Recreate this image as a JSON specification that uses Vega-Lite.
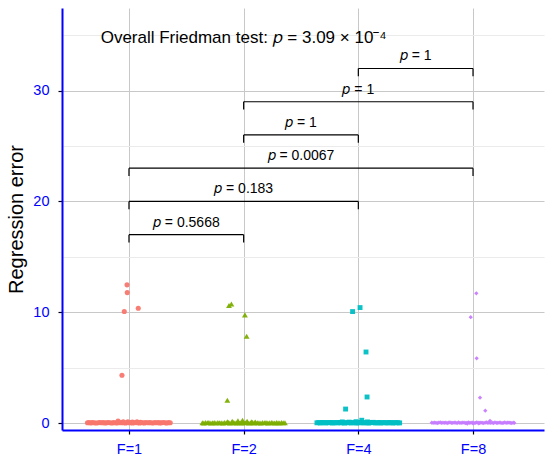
{
  "$schema": "https://vega.github.io/schema/vega-lite/v6.json",
  "description": "Regression error by F with Friedman test brackets",
  "autosize": {"type": "none"},
  "padding": {"left": 62, "top": 8, "right": 6, "bottom": 34},
  "width": 482,
  "height": 422,
  "config": {
    "view": {"stroke": null},
    "font": "Liberation Sans",
    "axis": {"labelFont": "Liberation Sans", "titleFont": "Liberation Sans"}
  },
  "datasets": {
    "points": [
      {"g": "F=1", "x": 0.983, "y": 12.47}, {"g": "F=1", "x": 0.985, "y": 11.77},
      {"g": "F=1", "x": 0.959, "y": 10.06}, {"g": "F=1", "x": 1.081, "y": 10.36},
      {"g": "F=1", "x": 0.939, "y": 4.31},
      {"g": "F=1", "x": 0.638, "y": 0.02}, {"g": "F=1", "x": 0.651, "y": 0.04}, {"g": "F=1", "x": 0.669, "y": 0.01},
      {"g": "F=1", "x": 0.682, "y": 0.05}, {"g": "F=1", "x": 0.698, "y": 0.03}, {"g": "F=1", "x": 0.713, "y": 0.0},
      {"g": "F=1", "x": 0.731, "y": 0.03}, {"g": "F=1", "x": 0.744, "y": 0.05}, {"g": "F=1", "x": 0.76, "y": 0.02},
      {"g": "F=1", "x": 0.774, "y": 0.04}, {"g": "F=1", "x": 0.791, "y": 0.01}, {"g": "F=1", "x": 0.806, "y": 0.03},
      {"g": "F=1", "x": 0.82, "y": 0.05}, {"g": "F=1", "x": 0.835, "y": 0.02}, {"g": "F=1", "x": 0.851, "y": 0.0},
      {"g": "F=1", "x": 0.864, "y": 0.04}, {"g": "F=1", "x": 0.88, "y": 0.03}, {"g": "F=1", "x": 0.896, "y": 0.01},
      {"g": "F=1", "x": 0.909, "y": 0.05}, {"g": "F=1", "x": 0.925, "y": 0.02}, {"g": "F=1", "x": 0.94, "y": 0.04},
      {"g": "F=1", "x": 0.954, "y": 0.03}, {"g": "F=1", "x": 0.971, "y": 0.0}, {"g": "F=1", "x": 0.985, "y": 0.05},
      {"g": "F=1", "x": 1.0, "y": 0.02}, {"g": "F=1", "x": 1.016, "y": 0.04}, {"g": "F=1", "x": 1.029, "y": 0.01},
      {"g": "F=1", "x": 1.046, "y": 0.03}, {"g": "F=1", "x": 1.06, "y": 0.05}, {"g": "F=1", "x": 1.075, "y": 0.02},
      {"g": "F=1", "x": 1.091, "y": 0.0}, {"g": "F=1", "x": 1.104, "y": 0.04}, {"g": "F=1", "x": 1.12, "y": 0.03},
      {"g": "F=1", "x": 1.135, "y": 0.01}, {"g": "F=1", "x": 1.149, "y": 0.05}, {"g": "F=1", "x": 1.166, "y": 0.02},
      {"g": "F=1", "x": 1.18, "y": 0.04}, {"g": "F=1", "x": 1.194, "y": 0.03}, {"g": "F=1", "x": 1.21, "y": 0.0},
      {"g": "F=1", "x": 1.225, "y": 0.05}, {"g": "F=1", "x": 1.239, "y": 0.02}, {"g": "F=1", "x": 1.255, "y": 0.04},
      {"g": "F=1", "x": 1.27, "y": 0.01}, {"g": "F=1", "x": 1.284, "y": 0.03}, {"g": "F=1", "x": 1.3, "y": 0.05},
      {"g": "F=1", "x": 1.316, "y": 0.02}, {"g": "F=1", "x": 1.329, "y": 0.0}, {"g": "F=1", "x": 1.345, "y": 0.04},
      {"g": "F=1", "x": 1.36, "y": 0.03},
      {"g": "F=1", "x": 0.905, "y": 0.18}, {"g": "F=1", "x": 0.95, "y": 0.1},
      {"g": "F=1", "x": 0.99, "y": 0.12}, {"g": "F=1", "x": 1.03, "y": 0.08},
      {"g": "F=1", "x": 1.07, "y": 0.11}, {"g": "F=1", "x": 1.1, "y": 0.07},

      {"g": "F=2", "x": 1.872, "y": 10.6}, {"g": "F=2", "x": 1.893, "y": 10.75},
      {"g": "F=2", "x": 2.011, "y": 9.76}, {"g": "F=2", "x": 2.026, "y": 7.83},
      {"g": "F=2", "x": 1.858, "y": 2.05},
      {"g": "F=2", "x": 1.64, "y": 0.03}, {"g": "F=2", "x": 1.653, "y": 0.01}, {"g": "F=2", "x": 1.668, "y": 0.05},
      {"g": "F=2", "x": 1.684, "y": 0.02}, {"g": "F=2", "x": 1.697, "y": 0.04}, {"g": "F=2", "x": 1.714, "y": 0.0},
      {"g": "F=2", "x": 1.729, "y": 0.03}, {"g": "F=2", "x": 1.743, "y": 0.05}, {"g": "F=2", "x": 1.758, "y": 0.01},
      {"g": "F=2", "x": 1.775, "y": 0.04}, {"g": "F=2", "x": 1.789, "y": 0.02}, {"g": "F=2", "x": 1.804, "y": 0.03},
      {"g": "F=2", "x": 1.82, "y": 0.0}, {"g": "F=2", "x": 1.834, "y": 0.05}, {"g": "F=2", "x": 1.849, "y": 0.02},
      {"g": "F=2", "x": 1.866, "y": 0.04}, {"g": "F=2", "x": 1.879, "y": 0.01}, {"g": "F=2", "x": 1.895, "y": 0.03},
      {"g": "F=2", "x": 1.911, "y": 0.05}, {"g": "F=2", "x": 1.924, "y": 0.02}, {"g": "F=2", "x": 1.94, "y": 0.0},
      {"g": "F=2", "x": 1.955, "y": 0.04}, {"g": "F=2", "x": 1.969, "y": 0.03}, {"g": "F=2", "x": 1.986, "y": 0.01},
      {"g": "F=2", "x": 2.0, "y": 0.05}, {"g": "F=2", "x": 2.014, "y": 0.02}, {"g": "F=2", "x": 2.031, "y": 0.04},
      {"g": "F=2", "x": 2.045, "y": 0.0}, {"g": "F=2", "x": 2.06, "y": 0.03}, {"g": "F=2", "x": 2.076, "y": 0.05},
      {"g": "F=2", "x": 2.09, "y": 0.01}, {"g": "F=2", "x": 2.105, "y": 0.04}, {"g": "F=2", "x": 2.121, "y": 0.02},
      {"g": "F=2", "x": 2.134, "y": 0.03}, {"g": "F=2", "x": 2.15, "y": 0.0}, {"g": "F=2", "x": 2.165, "y": 0.05},
      {"g": "F=2", "x": 2.181, "y": 0.02}, {"g": "F=2", "x": 2.195, "y": 0.04}, {"g": "F=2", "x": 2.21, "y": 0.01},
      {"g": "F=2", "x": 2.224, "y": 0.03}, {"g": "F=2", "x": 2.241, "y": 0.05}, {"g": "F=2", "x": 2.255, "y": 0.02},
      {"g": "F=2", "x": 2.27, "y": 0.0}, {"g": "F=2", "x": 2.286, "y": 0.04}, {"g": "F=2", "x": 2.3, "y": 0.03},
      {"g": "F=2", "x": 2.314, "y": 0.01}, {"g": "F=2", "x": 2.33, "y": 0.05}, {"g": "F=2", "x": 2.345, "y": 0.02},
      {"g": "F=2", "x": 2.36, "y": 0.03},
      {"g": "F=2", "x": 1.86, "y": 0.12}, {"g": "F=2", "x": 1.9, "y": 0.15},
      {"g": "F=2", "x": 1.95, "y": 0.2}, {"g": "F=2", "x": 1.99, "y": 0.25},
      {"g": "F=2", "x": 2.03, "y": 0.15}, {"g": "F=2", "x": 2.07, "y": 0.12},
      {"g": "F=2", "x": 2.1, "y": 0.1},

      {"g": "F=4", "x": 2.95, "y": 10.06}, {"g": "F=4", "x": 3.015, "y": 10.42},
      {"g": "F=4", "x": 3.067, "y": 6.41}, {"g": "F=4", "x": 3.076, "y": 2.35},
      {"g": "F=4", "x": 2.889, "y": 1.26},
      {"g": "F=4", "x": 2.639, "y": 0.02}, {"g": "F=4", "x": 2.654, "y": 0.04}, {"g": "F=4", "x": 2.668, "y": 0.0},
      {"g": "F=4", "x": 2.685, "y": 0.05}, {"g": "F=4", "x": 2.699, "y": 0.03}, {"g": "F=4", "x": 2.714, "y": 0.01},
      {"g": "F=4", "x": 2.73, "y": 0.04}, {"g": "F=4", "x": 2.744, "y": 0.02}, {"g": "F=4", "x": 2.759, "y": 0.05},
      {"g": "F=4", "x": 2.776, "y": 0.0}, {"g": "F=4", "x": 2.79, "y": 0.03}, {"g": "F=4", "x": 2.805, "y": 0.04},
      {"g": "F=4", "x": 2.819, "y": 0.01}, {"g": "F=4", "x": 2.835, "y": 0.05}, {"g": "F=4", "x": 2.85, "y": 0.02},
      {"g": "F=4", "x": 2.865, "y": 0.03}, {"g": "F=4", "x": 2.88, "y": 0.0}, {"g": "F=4", "x": 2.894, "y": 0.04},
      {"g": "F=4", "x": 2.91, "y": 0.02}, {"g": "F=4", "x": 2.925, "y": 0.05}, {"g": "F=4", "x": 2.939, "y": 0.01},
      {"g": "F=4", "x": 2.955, "y": 0.03}, {"g": "F=4", "x": 2.97, "y": 0.04}, {"g": "F=4", "x": 2.985, "y": 0.0},
      {"g": "F=4", "x": 3.0, "y": 0.02}, {"g": "F=4", "x": 3.015, "y": 0.05}, {"g": "F=4", "x": 3.03, "y": 0.03},
      {"g": "F=4", "x": 3.044, "y": 0.01}, {"g": "F=4", "x": 3.06, "y": 0.04}, {"g": "F=4", "x": 3.075, "y": 0.02},
      {"g": "F=4", "x": 3.09, "y": 0.0}, {"g": "F=4", "x": 3.105, "y": 0.05}, {"g": "F=4", "x": 3.12, "y": 0.03},
      {"g": "F=4", "x": 3.134, "y": 0.04}, {"g": "F=4", "x": 3.15, "y": 0.01}, {"g": "F=4", "x": 3.165, "y": 0.02},
      {"g": "F=4", "x": 3.18, "y": 0.05}, {"g": "F=4", "x": 3.195, "y": 0.0}, {"g": "F=4", "x": 3.21, "y": 0.03},
      {"g": "F=4", "x": 3.225, "y": 0.04}, {"g": "F=4", "x": 3.24, "y": 0.02}, {"g": "F=4", "x": 3.255, "y": 0.01},
      {"g": "F=4", "x": 3.27, "y": 0.05}, {"g": "F=4", "x": 3.285, "y": 0.03}, {"g": "F=4", "x": 3.3, "y": 0.0},
      {"g": "F=4", "x": 3.315, "y": 0.04}, {"g": "F=4", "x": 3.33, "y": 0.02}, {"g": "F=4", "x": 3.345, "y": 0.03},
      {"g": "F=4", "x": 3.36, "y": 0.01},
      {"g": "F=4", "x": 2.86, "y": 0.1}, {"g": "F=4", "x": 2.92, "y": 0.08},
      {"g": "F=4", "x": 2.98, "y": 0.12}, {"g": "F=4", "x": 3.03, "y": 0.25},
      {"g": "F=4", "x": 3.08, "y": 0.1}, {"g": "F=4", "x": 3.13, "y": 0.06},

      {"g": "F=8", "x": 4.029, "y": 11.71}, {"g": "F=8", "x": 3.98, "y": 9.55},
      {"g": "F=8", "x": 4.032, "y": 5.84}, {"g": "F=8", "x": 4.061, "y": 2.29},
      {"g": "F=8", "x": 4.107, "y": 1.11}, {"g": "F=8", "x": 4.148, "y": 0.2},
      {"g": "F=8", "x": 3.64, "y": 0.03}, {"g": "F=8", "x": 3.652, "y": 0.01}, {"g": "F=8", "x": 3.665, "y": 0.04},
      {"g": "F=8", "x": 3.677, "y": 0.02}, {"g": "F=8", "x": 3.689, "y": 0.0}, {"g": "F=8", "x": 3.701, "y": 0.03},
      {"g": "F=8", "x": 3.714, "y": 0.05}, {"g": "F=8", "x": 3.726, "y": 0.01}, {"g": "F=8", "x": 3.738, "y": 0.03},
      {"g": "F=8", "x": 3.75, "y": 0.02}, {"g": "F=8", "x": 3.763, "y": 0.04}, {"g": "F=8", "x": 3.775, "y": 0.0},
      {"g": "F=8", "x": 3.787, "y": 0.03}, {"g": "F=8", "x": 3.799, "y": 0.05}, {"g": "F=8", "x": 3.812, "y": 0.01},
      {"g": "F=8", "x": 3.824, "y": 0.02}, {"g": "F=8", "x": 3.836, "y": 0.04}, {"g": "F=8", "x": 3.848, "y": 0.03},
      {"g": "F=8", "x": 3.861, "y": 0.0}, {"g": "F=8", "x": 3.873, "y": 0.05}, {"g": "F=8", "x": 3.885, "y": 0.02},
      {"g": "F=8", "x": 3.897, "y": 0.01}, {"g": "F=8", "x": 3.91, "y": 0.04}, {"g": "F=8", "x": 3.922, "y": 0.03},
      {"g": "F=8", "x": 3.934, "y": 0.0}, {"g": "F=8", "x": 3.946, "y": 0.02}, {"g": "F=8", "x": 3.959, "y": 0.05},
      {"g": "F=8", "x": 3.971, "y": 0.01}, {"g": "F=8", "x": 3.983, "y": 0.03}, {"g": "F=8", "x": 3.995, "y": 0.04},
      {"g": "F=8", "x": 4.008, "y": 0.0}, {"g": "F=8", "x": 4.02, "y": 0.02}, {"g": "F=8", "x": 4.032, "y": 0.05},
      {"g": "F=8", "x": 4.044, "y": 0.03}, {"g": "F=8", "x": 4.057, "y": 0.01}, {"g": "F=8", "x": 4.069, "y": 0.04},
      {"g": "F=8", "x": 4.081, "y": 0.02}, {"g": "F=8", "x": 4.093, "y": 0.0}, {"g": "F=8", "x": 4.106, "y": 0.03},
      {"g": "F=8", "x": 4.118, "y": 0.05}, {"g": "F=8", "x": 4.13, "y": 0.01}, {"g": "F=8", "x": 4.142, "y": 0.04},
      {"g": "F=8", "x": 4.155, "y": 0.02}, {"g": "F=8", "x": 4.167, "y": 0.03}, {"g": "F=8", "x": 4.179, "y": 0.0},
      {"g": "F=8", "x": 4.191, "y": 0.05}, {"g": "F=8", "x": 4.204, "y": 0.02}, {"g": "F=8", "x": 4.216, "y": 0.01},
      {"g": "F=8", "x": 4.228, "y": 0.04}, {"g": "F=8", "x": 4.24, "y": 0.03}, {"g": "F=8", "x": 4.253, "y": 0.0},
      {"g": "F=8", "x": 4.265, "y": 0.02}, {"g": "F=8", "x": 4.277, "y": 0.05}, {"g": "F=8", "x": 4.289, "y": 0.01},
      {"g": "F=8", "x": 4.302, "y": 0.03}, {"g": "F=8", "x": 4.314, "y": 0.04}, {"g": "F=8", "x": 4.326, "y": 0.02},
      {"g": "F=8", "x": 4.338, "y": 0.0}, {"g": "F=8", "x": 4.351, "y": 0.03}, {"g": "F=8", "x": 4.36, "y": 0.01},
      {"g": "F=8", "x": 3.95, "y": -0.05}, {"g": "F=8", "x": 4.0, "y": -0.03},
      {"g": "F=8", "x": 4.05, "y": -0.04}
    ],
    "brackets": [
      {"x1": 1, "x2": 2, "y": 17, "tip": 16.3, "mid": 1.5, "label": "𝑝 = 0.5668"},
      {"x1": 1, "x2": 3, "y": 20, "tip": 19.3, "mid": 2, "label": "𝑝 = 0.183"},
      {"x1": 1, "x2": 4, "y": 23, "tip": 22.3, "mid": 2.5, "label": "𝑝 = 0.0067"},
      {"x1": 2, "x2": 3, "y": 26, "tip": 25.3, "mid": 2.5, "label": "𝑝 = 1"},
      {"x1": 2, "x2": 4, "y": 29, "tip": 28.3, "mid": 3, "label": "𝑝 = 1"},
      {"x1": 3, "x2": 4, "y": 32, "tip": 31.3, "mid": 3.5, "label": "𝑝 = 1"}
    ],
    "note": [
      {"x": 2, "y": 34.3, "label": "Overall Friedman test: 𝑝 = 3.09 × 10⁻⁴"}
    ]
  },
  "encoding": {
    "x": {
      "type": "quantitative",
      "scale": {"domain": [0.416, 4.619], "nice": false, "zero": false},
      "axis": {
        "title": null,
        "values": [1, 2, 3, 4],
        "labelExpr": "['F=1','F=2','F=4','F=8'][datum.value - 1]",
        "grid": true,
        "gridColor": "#c8c8c8",
        "gridWidth": 1,
        "domainColor": "#0000ff",
        "domainWidth": 2,
        "tickColor": "#000000",
        "tickSize": 4,
        "tickWidth": 1.2,
        "labelColor": "#0000ff",
        "labelFontSize": 14.5,
        "labelPadding": 8
      }
    },
    "y": {
      "type": "quantitative",
      "scale": {"domain": [-0.63, 37.46], "nice": false, "zero": false},
      "axis": {
        "title": "Regression error",
        "titleFontSize": 20,
        "titleFontWeight": "normal",
        "titleColor": "#000000",
        "titlePadding": 6,
        "values": [0, 5, 10, 15, 20, 25, 30, 35],
        "labelExpr": "datum.value % 10 === 0 ? datum.label : ''",
        "grid": true,
        "gridColor": {"condition": {"test": "datum.value % 10 === 0", "value": "#c8c8c8"}, "value": "#ebebeb"},
        "gridWidth": 1,
        "domainColor": "#0000ff",
        "domainWidth": 2,
        "tickColor": "#000000",
        "tickOpacity": {"condition": {"test": "datum.value % 10 === 0", "value": 1}, "value": 0},
        "tickSize": 4,
        "tickWidth": 1.2,
        "labelColor": "#0000ff",
        "labelFontSize": 14.5,
        "labelPadding": 9
      }
    }
  },
  "layer": [
    {
      "data": {"name": "points"},
      "mark": {"type": "point", "filled": true, "opacity": 0.95, "strokeWidth": 0},
      "encoding": {
        "x": {"field": "x"},
        "y": {"field": "y"},
        "color": {
          "field": "g", "type": "nominal", "legend": null,
          "scale": {"domain": ["F=1", "F=2", "F=4", "F=8"], "range": ["#F8766D", "#7CAE00", "#00BFC4", "#C77CFF"]}
        },
        "shape": {
          "field": "g", "type": "nominal", "legend": null,
          "scale": {"domain": ["F=1", "F=2", "F=4", "F=8"], "range": ["circle", "triangle-up", "square", "diamond"]}
        },
        "size": {
          "field": "g", "type": "nominal", "legend": null,
          "scale": {"type": "ordinal", "domain": ["F=1", "F=2", "F=4", "F=8"], "range": [26, 34, 24, 18]}
        }
      }
    },
    {
      "data": {"name": "brackets"},
      "mark": {"type": "rule", "color": "#000000", "strokeWidth": 1.2},
      "encoding": {"x": {"field": "x1"}, "x2": {"field": "x2"}, "y": {"field": "y"}}
    },
    {
      "data": {"name": "brackets"},
      "mark": {"type": "rule", "color": "#000000", "strokeWidth": 1.2},
      "encoding": {"x": {"field": "x1"}, "y": {"field": "y"}, "y2": {"field": "tip"}}
    },
    {
      "data": {"name": "brackets"},
      "mark": {"type": "rule", "color": "#000000", "strokeWidth": 1.2},
      "encoding": {"x": {"field": "x2"}, "y": {"field": "y"}, "y2": {"field": "tip"}}
    },
    {
      "data": {"name": "brackets"},
      "mark": {"type": "text", "fontSize": 14, "baseline": "alphabetic", "dy": -8, "color": "#000000"},
      "encoding": {"x": {"field": "mid"}, "y": {"field": "y"}, "text": {"field": "label"}}
    },
    {
      "data": {"name": "note"},
      "mark": {"type": "text", "fontSize": 17, "baseline": "alphabetic", "color": "#000000"},
      "encoding": {"x": {"field": "x"}, "y": {"field": "y"}, "text": {"field": "label"}}
    }
  ]
}
